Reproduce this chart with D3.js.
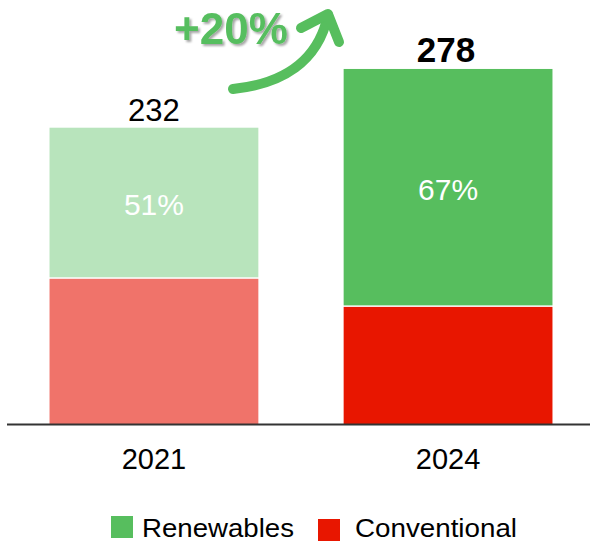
<!DOCTYPE html>
<html><head><meta charset="utf-8">
<script src="https://cdn.jsdelivr.net/npm/d3@7"></script>
<style>html,body{margin:0;padding:0;background:#fff;}svg{display:block;font-family:"Liberation Sans",Arial,sans-serif;}</style>
</head><body>
<script>
const years = ["2021", "2024"];
const renewables = [118.3, 186.3];
const conventional = [113.7, 91.7];
const totals = ["232", "278"];
const shares = ["51%", "67%"];
const renewColors = ["#b8e4bc", "#57be5e"];
const convColors = ["#f0736a", "#e81600"];
const growthLabel = "+20%";
const legendNames = ["Renewables", "Conventional"];
const legendColors = ["#57be5e", "#e81600"];

const W = 590, H = 542;
const svg = d3.select("body").append("svg").attr("width", W).attr("height", H);

const defs = svg.append("defs");
const f = defs.append("filter").attr("id", "sh").attr("x", "-20%").attr("y", "-20%").attr("width", "140%").attr("height", "140%");
f.append("feDropShadow").attr("dx", 2).attr("dy", 2).attr("stdDeviation", 1.2).attr("flood-color", "#000").attr("flood-opacity", 0.35);

const x = d3.scaleBand().domain(years).range([6, 596]).paddingInner(0.29).paddingOuter(0.148);
const y = d3.scaleLinear().domain([0, 332]).range([424, 0]);

const data = years.map((yr, i) => ({yr, i, r: renewables[i], c: conventional[i], t: totals[i], s: shares[i]}));

const g = svg.append("g");
// conventional
g.selectAll("rect.conv").data(data).join("rect").attr("class", "conv")
  .attr("x", d => x(d.yr)).attr("width", x.bandwidth())
  .attr("y", d => y(d.c)).attr("height", d => y(0) - y(d.c))
  .attr("fill", d => convColors[d.i]);
// renewables
g.selectAll("rect.ren").data(data).join("rect").attr("class", "ren")
  .attr("x", d => x(d.yr)).attr("width", x.bandwidth())
  .attr("y", d => y(d.c + d.r)).attr("height", d => y(d.c) - y(d.c + d.r) - 1.5)
  .attr("fill", d => renewColors[d.i]);

// share labels
g.selectAll("text.share").data(data).join("text").attr("class", "share")
  .attr("x", d => x(d.yr) + x.bandwidth() / 2)
  .attr("y", d => (y(d.c) + y(d.c + d.r)) / 2 + 12)
  .attr("text-anchor", "middle").attr("fill", "#fff").attr("font-size", 30)
  .text(d => d.s);

// totals
g.selectAll("text.tot").data(data).join("text").attr("class", "tot")
  .attr("x", d => x(d.yr) + x.bandwidth() / 2 - (d.i === 1 ? 2 : 0))
  .attr("y", d => y(d.c + d.r) - 7)
  .attr("text-anchor", "middle").attr("fill", "#000")
  .attr("font-size", d => d.i === 1 ? 35 : 31)
  .attr("font-weight", d => d.i === 1 ? "bold" : "normal")
  .text(d => d.t);

// baseline axis
svg.append("line").attr("x1", 7).attr("x2", 590).attr("y1", y(0) + 0.5).attr("y2", y(0) + 0.5)
  .attr("stroke", "#333").attr("stroke-width", 2);

const xAxis = svg.append("g").attr("transform", `translate(0,${y(0)})`)
  .call(d3.axisBottom(x).tickSize(0).tickPadding(0));
xAxis.select(".domain").remove();
xAxis.selectAll("text").attr("font-size", 29).attr("fill", "#000").attr("dy", 0).attr("y", 45)
  .attr("font-family", "Liberation Sans, Arial, sans-serif");

// growth arrow
const arrow = svg.append("g").attr("fill", "none").attr("stroke", "#57be5e").attr("stroke-width", 10)
  .attr("stroke-linecap", "round").attr("stroke-linejoin", "round");
arrow.append("path").attr("d", "M233,89 C282,84 318,62 328,15");
arrow.append("path").attr("d", "M301,28 L328,14 L339,42");

svg.append("text").attr("x", 174).attr("y", 44).attr("font-size", 44).attr("font-weight", "bold")
  .attr("fill", "#57be5e").attr("filter", "url(#sh)").text(growthLabel);

// legend
const lg = svg.append("g");
const lx = [111, 318], tx = [142, 355], tl = [152, 162], ly = [516, 519];
legendNames.forEach((n, i) => {
  lg.append("rect").attr("x", lx[i]).attr("y", ly[i]).attr("width", 22).attr("height", 22).attr("fill", legendColors[i]);
  lg.append("text").attr("x", tx[i]).attr("y", 537).attr("font-size", 25).attr("fill", "#000")
    .attr("textLength", tl[i]).attr("lengthAdjust", "spacingAndGlyphs").text(n);
});
</script>
</body></html>
